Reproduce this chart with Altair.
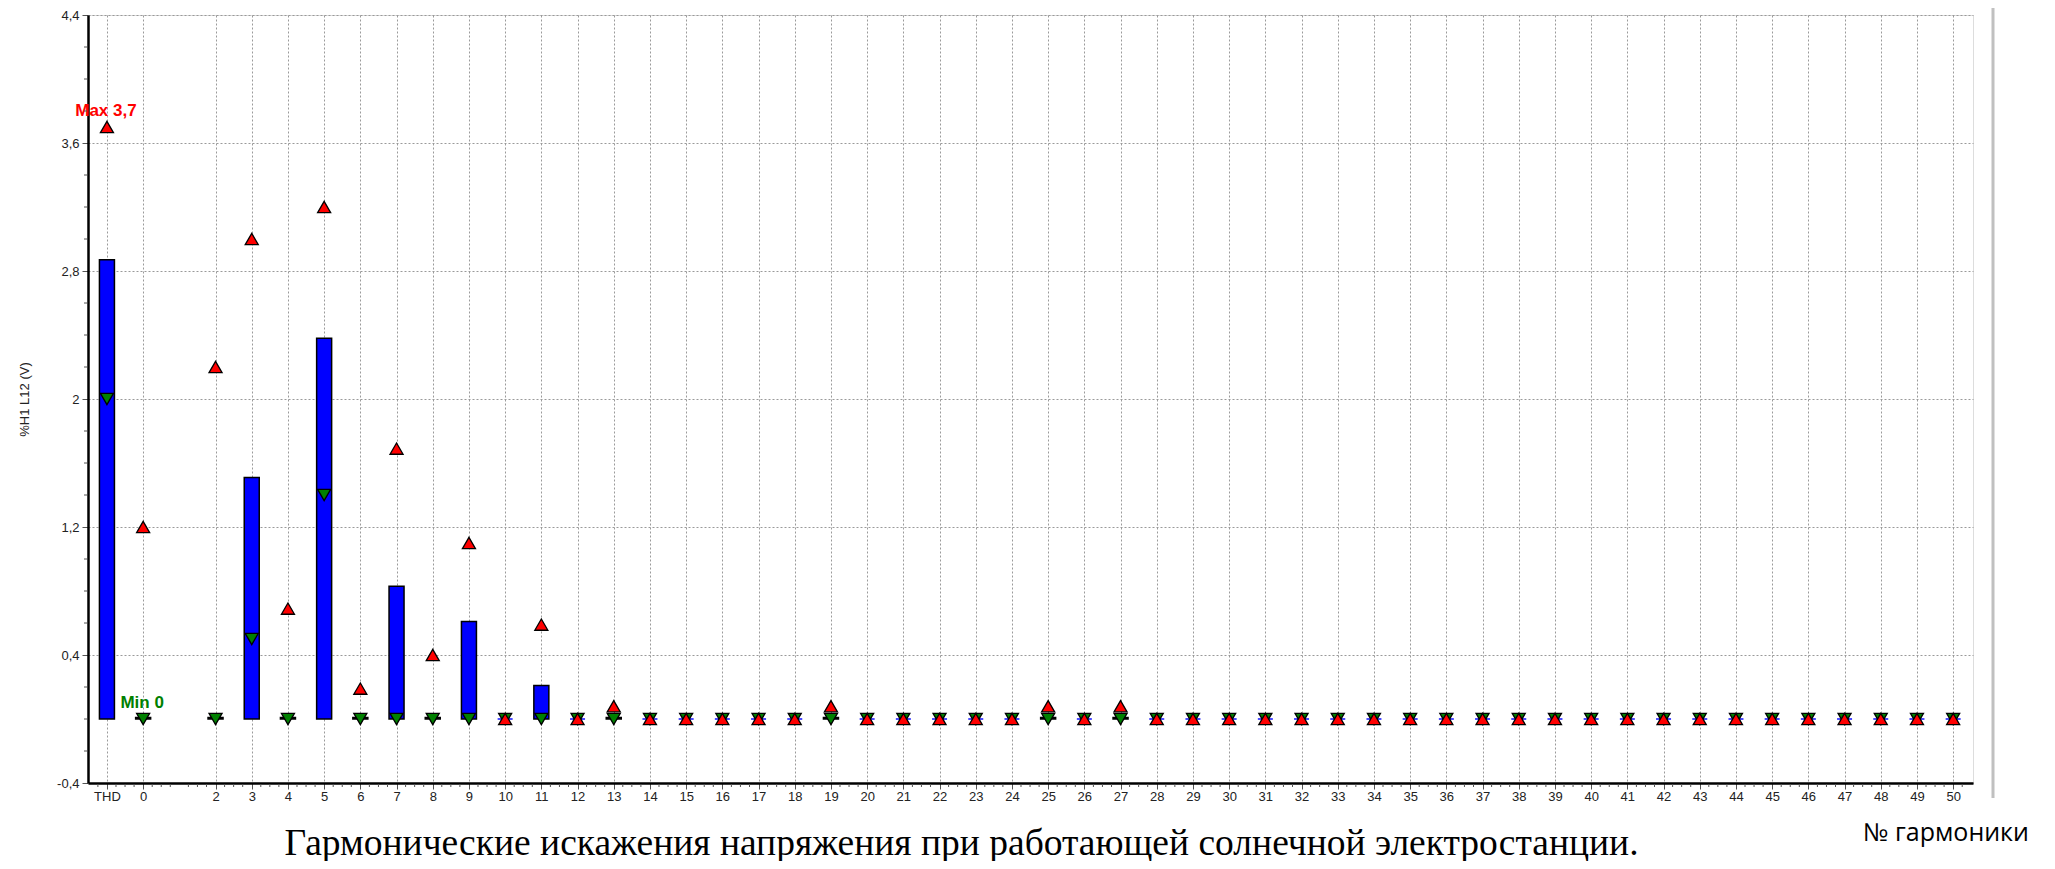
import altair as alt
import pandas as pd

# ---- data ----
harmonic_labels = ["THD", "0"] + [str(i) for i in range(2, 51)]
# average value (blue bars)
avg_values = [2.87, 0.01, 0.01, 1.51, 0.01, 2.38, 0.01, 0.83, 0.01, 0.61,
              0.0, 0.21, 0.0, 0.01,
              0.0, 0.0, 0.0, 0.0, 0.0,
              0.01,
              0.0, 0.0, 0.0, 0.0, 0.0,
              0.01, 0.0, 0.01,
              0.0, 0.0, 0.0, 0.0, 0.0, 0.0, 0.0, 0.0, 0.0, 0.0, 0.0, 0.0,
              0.0, 0.0, 0.0, 0.0, 0.0, 0.0, 0.0, 0.0, 0.0, 0.0, 0.0]
# maximum (red up-triangles)
max_values = [3.7, 1.2, 2.2, 3.0, 0.69, 3.2, 0.19, 1.69, 0.4, 1.1,
              0.0, 0.59, 0.0, 0.08,
              0.0, 0.0, 0.0, 0.0, 0.0,
              0.08,
              0.0, 0.0, 0.0, 0.0, 0.0,
              0.08, 0.0, 0.08,
              0.0, 0.0, 0.0, 0.0, 0.0, 0.0, 0.0, 0.0, 0.0, 0.0, 0.0, 0.0,
              0.0, 0.0, 0.0, 0.0, 0.0, 0.0, 0.0, 0.0, 0.0, 0.0, 0.0]
# minimum (green down-triangles)
min_values = [2.0, 0.0, 0.0, 0.5, 0.0, 1.4, 0.0, 0.0, 0.0, 0.0,
              0.0, 0.0, 0.0, 0.0,
              0.0, 0.0, 0.0, 0.0, 0.0,
              0.0,
              0.0, 0.0, 0.0, 0.0, 0.0,
              0.0, 0.0, 0.0,
              0.0, 0.0, 0.0, 0.0, 0.0, 0.0, 0.0, 0.0, 0.0, 0.0, 0.0, 0.0,
              0.0, 0.0, 0.0, 0.0, 0.0, 0.0, 0.0, 0.0, 0.0, 0.0, 0.0]

annot_labels = ["THD", "0"]
annot_values = [3.7, 0.0]
annot_texts = ["Max 3,7", "Min 0"]
annot_colors = ["#ff0000", "#008000"]

y_major = [-0.4, 0.4, 1.2, 2.0, 2.8, 3.6, 4.4]
y_minor = [-0.2, 0.0, 0.2, 0.6, 0.8, 1.0, 1.4, 1.6, 1.8, 2.2, 2.4, 2.6,
           3.0, 3.2, 3.4, 3.8, 4.0, 4.2]

main_title = "Гармонические искажения напряжения при работающей солнечной электростанции."
x_title = "№ гармоники"
y_title = "%H1 L12 (V)"

# ---- tables ----
def slot_of(lbl):
    return -1 if lbl == "THD" else int(lbl)

slots = [slot_of(l) for l in harmonic_labels]
df = pd.DataFrame({"label": harmonic_labels, "slot": slots,
                   "avg": avg_values, "max": max_values, "min": min_values})
ann = pd.DataFrame({"slot": [slot_of(l) for l in annot_labels],
                    "value": annot_values, "text": annot_texts,
                    "color": annot_colors})

x_minor = []
for s in range(-2, 51):
    for f in (0.25, 0.5, 0.75):
        v = s + f
        if -1.385 < v < 50.41:
            x_minor.append(v)
xminor_df = pd.DataFrame({"slot": x_minor})
yminor_df = pd.DataFrame({"v": y_minor})

XDOM = [-1.385, 50.41]
YDOM = [-0.4, 4.4]
LABEL_FONT = "Liberation Sans"
PLOT_H = 768

xscale = alt.Scale(domain=XDOM, nice=False, zero=False)
yscale = alt.Scale(domain=YDOM, nice=False, zero=False)

x_axis = alt.Axis(values=slots, tickCount=500,
                  labelExpr="datum.value == -1 ? 'THD' : format(datum.value, 'd')",
                  grid=True, gridColor="#9a9a9a", gridDash=[2, 2], gridWidth=1,
                  domainColor="black", domainWidth=2.5,
                  tickColor="#555", tickWidth=1, tickSize=6,
                  labelFont=LABEL_FONT, labelFontSize=13, labelColor="#222",
                  labelPadding=1, labelOverlap=False, labelFlush=False,
                  title=main_title, titleFont="Liberation Serif",
                  titleFontSize=37.5, titleFontWeight="normal", titleColor="black",
                  titleX=873, titleY=71, titleAlign="center",
                  titleBaseline="alphabetic", orient="bottom")

y_axis = alt.Axis(values=y_major, tickCount=500,
                  labelExpr="replace(replace(format(datum.value, '.1~f'), '.', ','), '\u2212', '-')",
                  grid=True, gridColor="#9a9a9a", gridDash=[2, 2], gridWidth=1,
                  domainColor="black", domainWidth=2.5,
                  tickColor="#555", tickWidth=1, tickSize=6,
                  labelFont=LABEL_FONT, labelFontSize=13, labelColor="#222",
                  labelPadding=3, labelOverlap=False, labelFlush=False,
                  title=y_title, titleFont=LABEL_FONT, titleFontSize=13,
                  titleFontWeight="normal", titleColor="#222",
                  titleX=-64, titleY=384, titleAngle=270, titleAlign="center",
                  titleBaseline="middle", orient="left")

base = alt.Chart(df)

bars = base.transform_filter("datum.avg > 0").mark_bar(
    size=15, color="#0000ff", stroke="black", strokeWidth=1.5
).encode(
    x=alt.X("slot:Q", scale=xscale, axis=x_axis),
    y=alt.Y("avg:Q", scale=yscale, axis=y_axis),
    y2=alt.datum(0),
)

zero_bars = base.transform_filter("datum.avg <= 0").mark_tick(
    color="#0000ff", thickness=2, size=15, orient="horizontal"
).encode(
    x=alt.X("slot:Q", scale=xscale),
    y=alt.Y("avg:Q", scale=yscale),
)

mins = base.mark_point(
    shape="triangle-down", filled=True, fill="#008000", stroke="black",
    strokeWidth=1.3, size=170, opacity=1
).encode(
    x=alt.X("slot:Q", scale=xscale),
    y=alt.Y("min:Q", scale=yscale),
)

maxs = base.mark_point(
    shape="triangle-up", filled=True, fill="#ff0000", stroke="black",
    strokeWidth=1.3, size=170, opacity=1
).encode(
    x=alt.X("slot:Q", scale=xscale),
    y=alt.Y("max:Q", scale=yscale),
)

labels = alt.Chart(ann).mark_text(
    font=LABEL_FONT, fontSize=17, fontWeight="bold", dy=-16, dx=-1
).encode(
    x=alt.X("slot:Q", scale=xscale),
    y=alt.Y("value:Q", scale=yscale),
    text="text:N",
    color=alt.Color("color:N", scale=None),
)

# minor ticks below the x axis and left of the y axis
x_minor_ticks = alt.Chart(xminor_df).mark_rule(color="#555", strokeWidth=1).encode(
    x=alt.X("slot:Q", scale=xscale),
    y=alt.value(PLOT_H + 1), y2=alt.value(PLOT_H + 4),
)
y_minor_ticks = alt.Chart(yminor_df).mark_rule(color="#555", strokeWidth=1).encode(
    y=alt.Y("v:Q", scale=yscale),
    x=alt.value(-4), x2=alt.value(-1),
)

xtitle = alt.Chart(pd.DataFrame({"t": [x_title]})).mark_text(
    font="Open Sans", fontSize=25, color="black", align="center",
    baseline="alphabetic"
).encode(text="t:N", x=alt.value(1858), y=alt.value(826))

side_line = alt.Chart(pd.DataFrame({"k": [0]})).mark_rule(
    color="#c0c0c0", strokeWidth=3
).encode(x=alt.value(1905), y=alt.value(-7), y2=alt.value(783))

chart = alt.layer(
    bars, zero_bars, mins, maxs, labels, x_minor_ticks, y_minor_ticks,
    xtitle, side_line
).properties(
    width=1885, height=PLOT_H,
    autosize=alt.AutoSizeParams(type="none"),
    padding={"left": 80, "top": 7, "right": 74, "bottom": 78},
).configure_view(stroke="black", strokeWidth=1.5).configure(background="white")

chart.save("out.html", embed_options={"renderer": "svg", "actions": False})
